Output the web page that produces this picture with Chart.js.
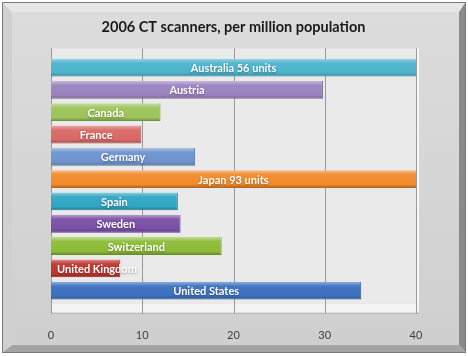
<!DOCTYPE html>
<html>
<head>
<meta charset="utf-8">
<script src="https://cdn.jsdelivr.net/npm/chart.js@4"></script>
<style>
    html, body { margin: 0; padding: 0; background: #ffffff; }
    #wrap { width: 468px; height: 356px; position: relative; }
</style>
</head>
<body>
<div id="wrap"><canvas id="ctChart" width="468" height="356"></canvas></div>
<script>
// CT scanners per million population, 2006
const countries = ['Australia', 'Austria', 'Canada', 'France', 'Germany', 'Japan',
    'Spain', 'Sweden', 'Switzerland', 'United Kingdom', 'United States'];
const scanners = [56, 29.8, 12, 9.9, 15.8, 93, 13.9, 14.2, 18.7, 7.6, 34];
const barColors = ['#4bb3cc', '#9a82bf', '#9cc45a', '#d96864', '#6d93cf', '#f28a2a',
    '#2fa5c2', '#7a4ea6', '#8cbc36', '#c0352f', '#3a70bf'];
const xTicks = [0, 10, 20, 30, 40];
const axisMax = 40;

// label shows the real number when the bar runs off the axis
const barLabels = countries.map((c, i) => scanners[i] > axisMax ? `${c} ${scanners[i]} units` : c);

function shade(hex, amt) {
    const n = parseInt(hex.slice(1), 16);
    let r = (n >> 16) & 255, g = (n >> 8) & 255, b = n & 255;
    const f = v => Math.max(0, Math.min(255, Math.round(amt > 0 ? v + (255 - v) * amt : v * (1 + amt))));
    return `rgb(${f(r)},${f(g)},${f(b)})`;
}

function barGradient(context) {
    const chart = context.chart;
    const area = chart.chartArea;
    const base = barColors[context.dataIndex];
    if (!area) return base;
    const y = chart.scales.y.getPixelForValue(context.dataIndex);
    const h = 9;
    const g = chart.ctx.createLinearGradient(0, y - h, 0, y + h);
    g.addColorStop(0, shade(base, 0.45));
    g.addColorStop(0.25, shade(base, 0.05));
    g.addColorStop(0.8, base);
    g.addColorStop(1, shade(base, -0.3));
    return g;
}

const framePlugin = {
    id: 'frame',
    beforeDraw(chart) {
        const ctx = chart.ctx;
        const W = chart.width, H = chart.height;
        ctx.save();
        ctx.fillStyle = '#ffffff';
        ctx.fillRect(0, 0, W, H);
        // bevel frame
        const o = { l: 3, t: 3, r: W - 3, b: H - 4 };
        const i = { l: 12, t: 12, r: W - 9, b: H - 11 };
        const poly = (pts, col) => {
            ctx.beginPath();
            ctx.moveTo(pts[0][0], pts[0][1]);
            pts.slice(1).forEach(p => ctx.lineTo(p[0], p[1]));
            ctx.closePath();
            ctx.fillStyle = col;
            ctx.fill();
        };
        poly([[o.l, o.t], [o.r, o.t], [i.r, i.t], [i.l, i.t]], '#e6e6e6');
        poly([[o.l, o.t], [i.l, i.t], [i.l, i.b], [o.l, o.b]], '#d0d0d0');
        poly([[o.r, o.t], [o.r, o.b], [i.r, i.b], [i.r, i.t]], '#8a8a8a');
        poly([[o.l, o.b], [i.l, i.b], [i.r, i.b], [o.r, o.b]], '#a4a4a4');
        const pg = ctx.createLinearGradient(0, i.t, 0, i.b);
        pg.addColorStop(0, '#dcdcdc');
        pg.addColorStop(1, '#cfcfcf');
        ctx.fillStyle = pg;
        ctx.fillRect(i.l, i.t, i.r - i.l, i.b - i.t);
        ctx.strokeStyle = '#7a7a7a';
        ctx.lineWidth = 1;
        ctx.strokeRect(o.l - 0.5, o.t - 0.5, o.r - o.l + 1, o.b - o.t + 1);

        // plot walls and floor
        const a = chart.chartArea;
        ctx.fillStyle = '#eaeaea';
        ctx.fillRect(a.left, a.top - 8, a.right - a.left, a.bottom - a.top + 10);
        ctx.fillStyle = '#f8f8f8';
        ctx.fillRect(a.right, a.top - 8, 3, a.bottom - a.top + 10);
        ctx.fillStyle = '#f4f4f4';
        ctx.fillRect(a.left, a.bottom + 2, a.right - a.left + 3, 9);
        ctx.strokeStyle = '#b5b5b5';
        ctx.beginPath();
        ctx.moveTo(a.left, a.bottom + 11.5);
        ctx.lineTo(a.right + 3, a.bottom + 11.5);
        ctx.stroke();
        // vertical gridlines from the x scale
        const xs = chart.scales.x;
        ctx.strokeStyle = '#9a9a9a';
        xTicks.forEach(v => {
            const x = Math.round(xs.getPixelForValue(v)) + 0.5;
            ctx.beginPath();
            ctx.moveTo(x, a.top - 8);
            ctx.lineTo(x, a.bottom + 12);
            ctx.stroke();
        });
        ctx.restore();
    }
};

const labelPlugin = {
    id: 'barText',
    afterDatasetsDraw(chart) {
        const ctx = chart.ctx;
        const a = chart.chartArea;
        const x0 = chart.scales.x.getPixelForValue(0);
        const meta = chart.getDatasetMeta(0);
        ctx.save();
        ctx.font = 'bold 11px Lato, "Open Sans", sans-serif';
        ctx.textBaseline = 'middle';
        ctx.shadowColor = 'rgba(0,0,0,0.35)';
        ctx.shadowBlur = 2;
        ctx.shadowOffsetY = 1;
        ctx.fillStyle = '#ffffff';
        meta.data.forEach((bar, i) => {
            const end = Math.min(bar.x, a.right);
            const w = ctx.measureText(barLabels[i]).width;
            if (w + 8 > end - x0) {
                // too long for the bar: start it just inside the bar
                ctx.textAlign = 'left';
                ctx.fillText(barLabels[i], x0 + 6, bar.y + 1);
            } else {
                ctx.textAlign = 'center';
                ctx.fillText(barLabels[i], (x0 + end) / 2, bar.y + 1);
            }
        });
        ctx.restore();
    }
};

new Chart(document.getElementById('ctChart'), {
    type: 'bar',
    data: {
        labels: countries,
        datasets: [{
            data: scanners,
            backgroundColor: barGradient,
            borderColor: barColors.map(c => shade(c, -0.25)),
            borderWidth: { top: 0, right: 1, bottom: 1, left: 0 },
            borderSkipped: 'left',
            categoryPercentage: 1,
            barPercentage: 0.8
        }]
    },
    options: {
        indexAxis: 'y',
        responsive: false,
        animation: false,
        layout: { padding: { left: 51, right: 52, top: 19, bottom: -13 } },
        plugins: {
            legend: { display: false },
            tooltip: { enabled: false },
            title: {
                display: true,
                text: '2006 CT scanners, per million population',
                color: '#1a1a1a',
                font: { family: 'Lato, "Open Sans", sans-serif', size: 14.5, weight: 'bold' },
                padding: { top: 0, bottom: 20 }
            }
        },
        scales: {
            x: {
                min: 0,
                max: axisMax,
                afterBuildTicks: scale => { scale.ticks = xTicks.map(v => ({ value: v })); },
                grid: { display: false, drawTicks: false },
                border: { display: false },
                ticks: {
                    padding: 27,
                    color: '#404040',
                    font: { family: 'Lato, "Open Sans", sans-serif', size: 11 }
                }
            },
            y: {
                display: false
            }
        }
    },
    plugins: [framePlugin, labelPlugin]
});
</script>
</body>
</html>
